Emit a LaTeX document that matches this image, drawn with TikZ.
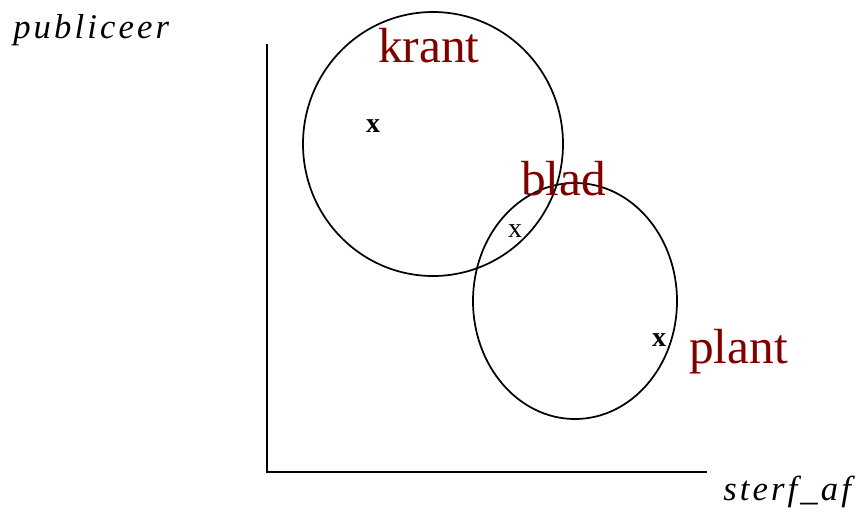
\documentclass[tikz,border=0pt]{standalone}
\usepackage{fontspec}
\setmainfont{Liberation Serif}
\definecolor{labelred}{RGB}{128,0,0}
\tikzset{
  bigtxt/.style={text=labelred, font=\fontsize{37}{40}\selectfont, inner sep=0pt, anchor=base west},
  axtxt/.style={font=\fontsize{26}{28}\selectfont\itshape\addfontfeature{LetterSpace=9}, inner sep=0pt, anchor=base west},
  mark x/.style={font=\fontsize{21}{23}\selectfont, inner sep=0pt, anchor=base},
  ring/.style={draw=black, line width=1.3pt},
  axis/.style={draw=black, line width=1.5pt}
}
\begin{document}
\begin{tikzpicture}[x=0.75pt,y=-0.75pt]
\useasboundingbox (0,0) rectangle (861,515);
% axes
\coordinate (top) at (267,44);
\coordinate (origin) at (267,472);
\coordinate (right) at (707,472);
\draw[axis] (top) -- (origin) -- (right);
% ellipses
\draw[ring] (433,144) ellipse [x radius=130, y radius=132];
\draw[ring] (575,301) ellipse [x radius=102, y radius=118];
% labels
\node[bigtxt] (krant) at (378,62) {krant};
\node[bigtxt] (blad) at (521,195) {blad};
\node[bigtxt] (plant) at (689,363) {plant};
\node[axtxt] (pub) at (13,38) {publiceer};
\node[axtxt] (sterf) at (723,500) {sterf\_af};
% markers
\node[mark x] (x1) at (373,132) {\bfseries x};
\node[mark x] (x2) at (515,237) {x};
\node[mark x] (x3) at (659,346) {\bfseries x};
\end{tikzpicture}
\end{document}
